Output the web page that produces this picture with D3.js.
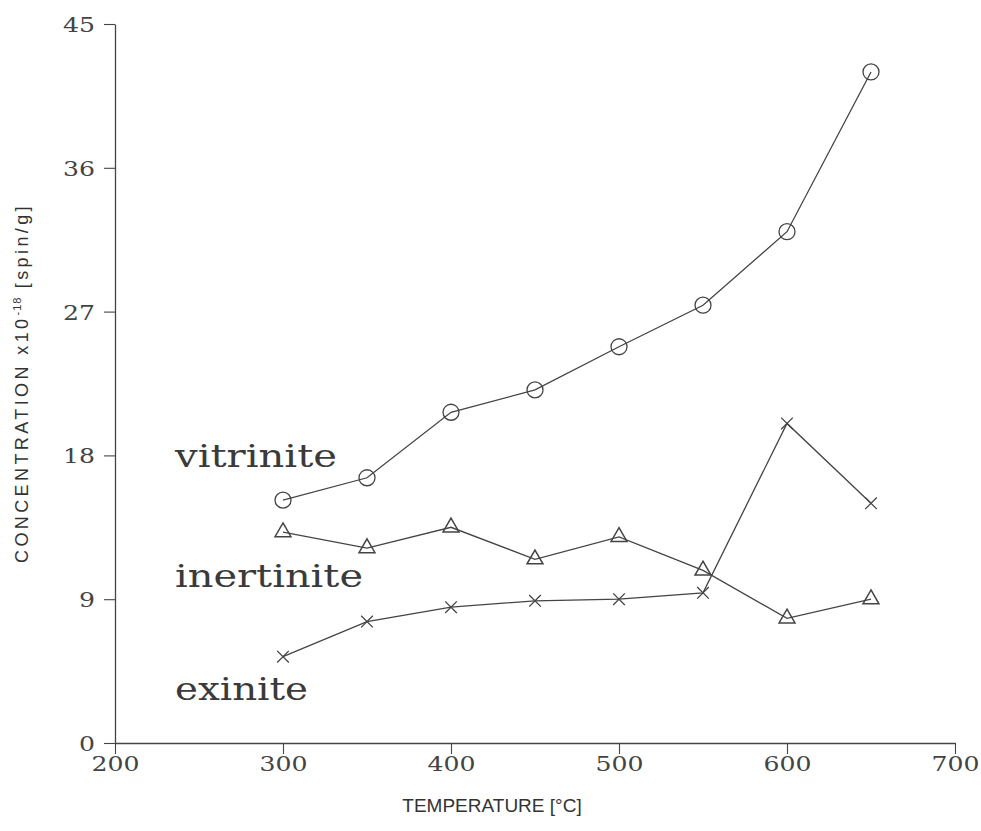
<!DOCTYPE html>
<html>
<head>
<meta charset="utf-8">
<script src="https://cdn.jsdelivr.net/npm/d3@7"></script>
<style>
  body { margin: 0; background: #fff; }
</style>
</head>
<body>
<div id="chart"></div>
<script>
// Values
var temps = [300, 350, 400, 450, 500, 550, 600, 650];
var vitrinite = [15.2, 16.6, 20.7, 22.1, 24.8, 27.4, 32.0, 42.0];
var inertinite = [13.2, 12.2, 13.5, 11.5, 12.9, 10.8, 7.8, 9.0];
var exinite = [5.4, 7.6, 8.5, 8.9, 9.0, 9.4, 20.0, 15.0];
var xTicks = [200, 300, 400, 500, 600, 700];
var yTicks = [0, 9, 18, 27, 36, 45];

var width = 981, height = 831;
var ink = '#444';

var svg = d3.select('#chart').append('svg')
  .attr('width', width)
  .attr('height', height);

var x = d3.scaleLinear().domain([200, 700]).range([115, 955]);
var y = d3.scaleLinear().domain([0, 45]).range([743, 24]);

// Axes
var xAxis = d3.axisBottom(x).tickValues(xTicks).tickSize(11).tickPadding(2).tickSizeOuter(0);
var yAxis = d3.axisLeft(y).tickValues(yTicks).tickSize(11).tickPadding(9).tickSizeOuter(0);

var gx = svg.append('g').attr('transform', 'translate(0,' + y(0) + ')').call(xAxis);
var gy = svg.append('g').attr('transform', 'translate(' + x(200) + ',0)').call(yAxis);

[gx, gy].forEach(function(g) {
  g.select('.domain').style('stroke', ink).style('stroke-width', 1.3);
  g.selectAll('.tick line').style('stroke', ink).style('stroke-width', 1.1);
  g.selectAll('.tick text')
    .style('fill', ink)
    .style('font-family', '"DejaVu Serif", serif')
    .style('font-size', '21px')
    .attr('lengthAdjust', 'spacingAndGlyphs')
    .attr('textLength', function() { return this.textContent.length * 16; });
});
gy.selectAll('.tick text').attr('dy', '0.36em');

// Axis titles
svg.append('text')
  .attr('x', 492)
  .attr('y', 812)
  .attr('text-anchor', 'middle')
  .style('font-family', '"Liberation Sans", Arial, sans-serif')
  .style('font-size', '19px')
  .style('fill', '#333')
  .text('TEMPERATURE [°C]');

var yTitle = svg.append('text')
  .attr('transform', 'translate(28,' + 383 + ') rotate(-90)')
  .attr('text-anchor', 'middle')
  .style('font-family', '"Liberation Sans", Arial, sans-serif')
  .style('font-size', '18px')
  .style('letter-spacing', '3.4px')
  .style('fill', '#333');
yTitle.append('tspan').text('CONCENTRATION x10');
yTitle.append('tspan').attr('dy', -7).style('font-size', '11px').style('letter-spacing', '1px').text('-18');
yTitle.append('tspan').attr('dy', 7).text(' [spin/g]');

// Lines
var line = d3.line()
  .x(function(d) { return x(d[0]); })
  .y(function(d) { return y(d[1]); });

function pairs(vals) {
  return temps.map(function(t, i) { return [t, vals[i]]; });
}

[vitrinite, inertinite, exinite].forEach(function(vals) {
  svg.append('path')
    .datum(pairs(vals))
    .attr('d', line)
    .style('fill', 'none')
    .style('stroke', ink)
    .style('stroke-width', 1.3);
});

// Markers
svg.append('g').selectAll('circle')
  .data(pairs(vitrinite))
  .enter().append('circle')
  .attr('cx', function(d) { return x(d[0]); })
  .attr('cy', function(d) { return y(d[1]); })
  .attr('r', 8)
  .style('fill', 'none')
  .style('stroke', ink)
  .style('stroke-width', 1.3);

var tri = d3.symbol().type(d3.symbolTriangle).size(110);
svg.append('g').selectAll('path')
  .data(pairs(inertinite))
  .enter().append('path')
  .attr('d', tri)
  .attr('transform', function(d) { return 'translate(' + x(d[0]) + ',' + y(d[1]) + ')'; })
  .style('fill', 'none')
  .style('stroke', ink)
  .style('stroke-width', 1.5);

var cross = d3.symbol().type(d3.symbolX).size(90);
svg.append('g').selectAll('path')
  .data(pairs(exinite))
  .enter().append('path')
  .attr('d', cross)
  .attr('transform', function(d) { return 'translate(' + x(d[0]) + ',' + y(d[1]) + ')'; })
  .style('fill', 'none')
  .style('stroke', ink)
  .style('stroke-width', 1.3);

// Series labels
var labels = [
  { text: 'vitrinite', y: 467, w: 162 },
  { text: 'inertinite', y: 587, w: 188 },
  { text: 'exinite', y: 700, w: 133 }
];
svg.append('g').selectAll('text')
  .data(labels)
  .enter().append('text')
  .attr('x', 175)
  .attr('y', function(d) { return d.y; })
  .attr('textLength', function(d) { return d.w; })
  .attr('lengthAdjust', 'spacingAndGlyphs')
  .style('font-family', '"DejaVu Serif", serif')
  .style('font-size', '31px')
  .style('fill', '#3a3a3a')
  .text(function(d) { return d.text; });
</script>
</body>
</html>
